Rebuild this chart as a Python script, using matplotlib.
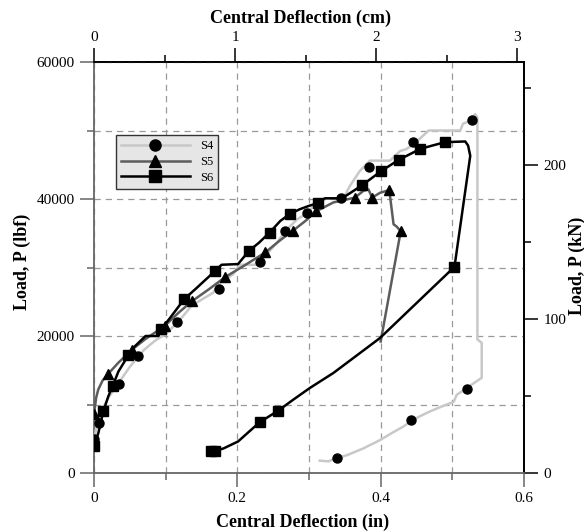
import matplotlib
matplotlib.use('Agg')
import matplotlib.pyplot as plt
from matplotlib.lines import Line2D

plt.rcParams['font.family'] = ['Liberation Serif', 'DejaVu Serif']

# load-deflection paths (deflection in inches, load in lbf)
s4_x = [0.000, 0.003, 0.010, 0.020, 0.030, 0.040, 0.050, 0.058, 0.070, 0.085, 0.100, 0.115, 0.125, 0.136,
        0.150, 0.166, 0.176, 0.194, 0.204, 0.227, 0.235, 0.255, 0.267, 0.283, 0.297, 0.311, 0.325, 0.348,
        0.357, 0.371, 0.385, 0.413, 0.427, 0.436, 0.446, 0.467, 0.511, 0.515, 0.525, 0.532, 0.535, 0.535,
        0.541, 0.541, 0.534, 0.520, 0.506, 0.502, 0.485, 0.469, 0.455, 0.443, 0.432, 0.415, 0.399, 0.376,
        0.353, 0.339, 0.327, 0.315]
s4_y = [4600, 6500, 9000, 11000, 12500, 14000, 15500, 16500, 18000, 19300, 20300, 21800, 23000, 24400,
        25300, 26300, 27800, 29000, 30400, 30400, 31200, 33600, 35300, 37000, 37900, 39500, 40100, 40100,
        41900, 44100, 45600, 45600, 47000, 47300, 48000, 50000, 50000, 51000, 51400, 52400, 51900, 19500,
        19000, 13900, 13400, 12400, 11400, 10400, 9700, 9000, 8300, 7600, 6800, 5800, 4800, 3600,
        2600, 2200, 1700, 1800]
s4_mx = [0.0004, 0.007, 0.035, 0.061, 0.116, 0.174, 0.232, 0.267, 0.297, 0.344, 0.384, 0.445, 0.528,
         0.520, 0.443, 0.339]
s4_my = [5000, 7300, 13000, 17100, 22100, 26800, 30800, 35300, 37900, 40100, 44700, 48300, 51600,
         12300, 7700, 2200]

s5_x = [0.000, 0.003, 0.006, 0.012, 0.020, 0.034, 0.053, 0.071, 0.099, 0.118, 0.137, 0.160, 0.183, 0.210,
        0.239, 0.260, 0.278, 0.295, 0.310, 0.334, 0.364, 0.376, 0.383, 0.388, 0.399, 0.412, 0.418, 0.422,
        0.428, 0.400]
s5_y = [8600, 11000, 12200, 13500, 14500, 16100, 18000, 19500, 21500, 23400, 25100, 26800, 28600, 30300,
        32200, 34000, 35400, 36800, 38200, 39500, 40200, 41200, 41400, 40200, 40900, 41300, 36300, 36000,
        35300, 19200]
s5_mx = [0.0004, 0.020, 0.053, 0.099, 0.137, 0.183, 0.239, 0.278, 0.310, 0.364, 0.388, 0.412, 0.428]
s5_my = [8600, 14500, 18000, 21500, 25100, 28600, 32200, 35400, 38200, 40200, 40200, 41300, 35400]

s6_x = [0.000, 0.006, 0.013, 0.020, 0.026, 0.034, 0.048, 0.057, 0.072, 0.090, 0.094, 0.108, 0.126, 0.141,
        0.169, 0.178, 0.201, 0.216, 0.230, 0.245, 0.260, 0.273, 0.287, 0.300, 0.312, 0.322, 0.343, 0.352,
        0.374, 0.401, 0.425, 0.455, 0.472, 0.490, 0.518, 0.522, 0.525, 0.503, 0.450, 0.399, 0.334, 0.301,
        0.278, 0.257, 0.231, 0.201, 0.181, 0.169, 0.163]
s6_y = [4000, 5800, 9000, 11200, 12700, 14800, 17200, 18500, 20000, 20000, 21000, 22900, 25400, 26800,
        29500, 30400, 30500, 32400, 33600, 35100, 36800, 37800, 38500, 39000, 39400, 40100, 40100, 40500,
        42000, 44100, 45700, 47300, 47800, 48300, 48400, 47800, 46300, 30100, 24800, 19700, 14600, 12400,
        10700, 9100, 7400, 4600, 3600, 3200, 3200]
s6_mx = [0.0004, 0.013, 0.026, 0.048, 0.094, 0.126, 0.169, 0.216, 0.245, 0.273, 0.312, 0.374, 0.401,
         0.425, 0.455, 0.490, 0.503, 0.257, 0.231, 0.169, 0.163]
s6_my = [4000, 9000, 12700, 17200, 21000, 25400, 29500, 32400, 35100, 37800, 39400, 42000, 44100,
         45700, 47300, 48300, 30100, 9100, 7400, 3200, 3200]

series = ['S4', 'S5', 'S6']
line_colors = ['#c8c8c8', '#5c5c5c', '#000000']
markers = ['o', '^', 's']

IN_TO_CM = 5.08
LBF_TO_KN = 0.0044482

fig = plt.figure(figsize=(5.84, 5.31), dpi=100)
ax = fig.add_axes([94 / 584, 1 - 473 / 531, 430 / 584, 411 / 531])

paths = [(s4_x, s4_y, s4_mx, s4_my), (s5_x, s5_y, s5_mx, s5_my), (s6_x, s6_y, s6_mx, s6_my)]
for (x, y, mx, my), c in zip(paths, line_colors):
    ax.plot(x, y, color=c, lw=1.8, zorder=3)
for (x, y, mx, my), m in zip(paths, markers):
    ax.plot(mx, my, m, color='black', ms=6.5, ls='none', zorder=4)

ax.set_xlim(0, 0.6)
ax.set_ylim(0, 60000)
ax.set_xticks([0, 0.2, 0.4, 0.6])
ax.set_xticklabels(['0', '0.2', '0.4', '0.6'])
ax.set_xticks([0.1, 0.3, 0.5], minor=True)
ax.set_yticks([0, 20000, 40000, 60000])
ax.set_yticklabels(['0', '20000', '40000', '60000'])
ax.set_yticks([10000, 30000, 50000], minor=True)
ax.grid(which='both', color='#999999', ls=(0, (5, 4)), lw=0.9, zorder=0)
ax.tick_params(which='major', direction='out', length=10, width=1.1, color='#666666', labelsize=11, pad=4)
ax.tick_params(which='minor', direction='out', length=5, width=1.1, color='#666666')
for s in ['left', 'bottom']:
    ax.spines[s].set_color('#666666')
    ax.spines[s].set_linewidth(1.3)
for s in ['top', 'right']:
    ax.spines[s].set_color('black')
    ax.spines[s].set_linewidth(1.3)

top = ax.secondary_xaxis('top', functions=(lambda v: v * IN_TO_CM, lambda v: v / IN_TO_CM))
top.set_xticks([0, 1, 2, 3])
top.set_xticklabels(['0', '1', '2', '3'])
top.set_xticks([0.5, 1.5, 2.5], minor=True)
top.tick_params(which='major', direction='out', length=10, width=1.1, labelsize=11, pad=3)
top.tick_params(which='minor', direction='out', length=5, width=1.1)
top.spines['top'].set_linewidth(1.3)

right = ax.secondary_yaxis('right', functions=(lambda v: v * LBF_TO_KN, lambda v: v / LBF_TO_KN))
right.set_yticks([0, 100, 200])
right.set_yticklabels(['0', '100', '200'])
right.set_yticks([50, 150, 250], minor=True)
right.tick_params(which='major', direction='out', length=10, width=1.1, labelsize=11, pad=4)
right.tick_params(which='minor', direction='out', length=5, width=1.1)
right.spines['right'].set_linewidth(1.3)

lab = dict(fontsize=13, fontweight='bold')
ax.set_xlabel('Central Deflection (in)', **lab)
ax.xaxis.set_label_coords(0.484, -0.119)
ax.xaxis.label.set_va('center')
top.set_xlabel('Central Deflection (cm)', **lab)
top.xaxis.set_label_coords(0.481, 1.107, transform=ax.transAxes)
top.xaxis.label.set_va('center')
ax.set_ylabel('Load, P (lbf)', **lab)
ax.yaxis.set_label_coords(-0.167, 0.513)
ax.yaxis.label.set_va('center')
right.set_ylabel('Load, P (kN)', **lab)
right.yaxis.set_label_coords(1.123, 0.504, transform=ax.transAxes)
right.yaxis.label.set_va('center')

handles = [Line2D([], [], color=c, lw=1.8, marker=m, mfc='black', mec='black', ms=8)
           for c, m in zip(line_colors, markers)]
leg = ax.legend(handles, series, loc='upper left', bbox_to_anchor=(0.051, 0.822), borderaxespad=0,
                fontsize=9, handlelength=5.5, fancybox=False, framealpha=1, facecolor='#e6e6e6',
                edgecolor='#333333', labelspacing=0.3, borderpad=0.4)
leg.get_frame().set_linewidth(1.0)
leg.set_zorder(5)

fig.savefig('out.png', dpi=100)
